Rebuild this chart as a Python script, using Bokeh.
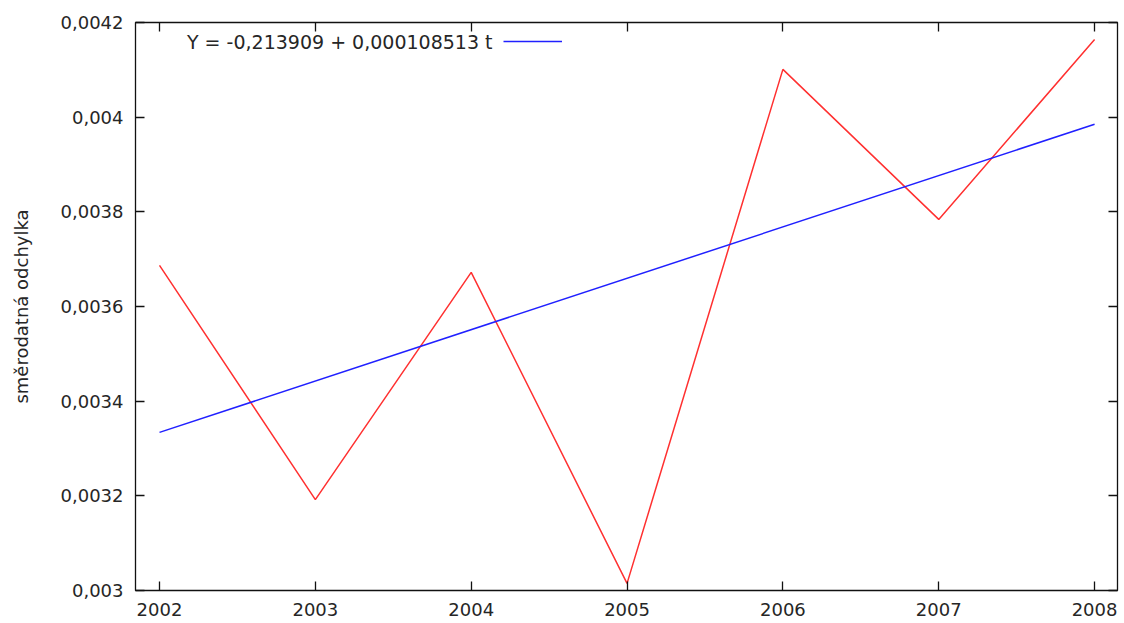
from bokeh.plotting import figure
from bokeh.models import (FixedTicker, LinearAxis, Range1d, CustomJSTickFormatter,
                          Legend, LegendItem, Label)
from bokeh.embed import file_html
from bokeh.resources import INLINE

# ---- data ----
years = [2002, 2003, 2004, 2005, 2006, 2007, 2008]
std_dev = [0.003687, 0.003192, 0.003672, 0.003015, 0.004101, 0.003784, 0.004164]
fit_intercept = -0.213909
fit_slope = 0.000108513
fit_label = "Y = -0,213909 + 0,000108513 t"
y_label = "směrodatná odchylka"
y_ticks = [0.003, 0.0032, 0.0034, 0.0036, 0.0038, 0.004, 0.0042]
x_ticks = years

fit_x = [years[0], years[-1]]
fit_y = [fit_intercept + fit_slope * t for t in fit_x]

FONT = "DejaVu Sans"
FS = "18px"
TXT = "#262626"

p = figure(width=1120, height=622, output_backend="svg", toolbar_location=None,
           x_range=Range1d(2001.846, 2008.147), y_range=Range1d(0.003, 0.0042),
           min_border_left=135, min_border_right=3, min_border_top=22,
           min_border_bottom=32, background_fill_color="white",
           border_fill_color="white")
p.grid.visible = False
p.outline_line_color = "#111111"
p.outline_line_width = 1.3

p.line(years, std_dev, line_color="#ff3030", line_width=1.5)
blue = p.line(fit_x, fit_y, line_color="#2020ff", line_width=1.5)

fmt = CustomJSTickFormatter(code="""
let s = tick.toFixed(4).replace(/0+$/, '');
return s.replace('.', ',');
""")

xa = p.xaxis[0]
xa.ticker = FixedTicker(ticks=x_ticks)
ya = p.yaxis[0]
ya.ticker = FixedTicker(ticks=y_ticks)
ya.formatter = fmt
ya.axis_label = y_label
ya.axis_label_standoff = 26
ya.axis_label_text_font = FONT
ya.axis_label_text_font_size = FS
ya.axis_label_text_font_style = "normal"
ya.axis_label_text_color = TXT
xa.major_label_standoff = 12
ya.major_label_standoff = 12

for ax in (xa, ya):
    ax.major_tick_in = 9
    ax.major_tick_out = 0
    ax.minor_tick_in = 0
    ax.minor_tick_out = 0
    ax.axis_line_color = None
    ax.major_tick_line_color = "#111111"
    ax.major_tick_line_width = 1.3
    ax.major_label_text_font = FONT
    ax.major_label_text_font_size = FS
    ax.major_label_text_color = TXT

# mirrored tick marks (top and right), no labels
empty_fmt = CustomJSTickFormatter(code="return '';")
top = LinearAxis(ticker=FixedTicker(ticks=x_ticks), formatter=empty_fmt)
right = LinearAxis(ticker=FixedTicker(ticks=y_ticks), formatter=empty_fmt)
for ax in (top, right):
    ax.major_tick_in = 9
    ax.major_tick_out = 0
    ax.minor_tick_in = 0
    ax.minor_tick_out = 0
    ax.axis_line_color = None
    ax.major_tick_line_color = "#111111"
    ax.major_tick_line_width = 1.3
    ax.major_label_standoff = 0
    ax.major_label_text_font_size = "1px"
p.add_layout(top, "above")
p.add_layout(right, "right")

# legend: text then sample line (gnuplot style)
p.add_layout(Label(x=357, y=549, x_units="screen", y_units="screen",
                   text=fit_label, text_align="right", text_baseline="middle",
                   text_font=FONT, text_font_size="19px", text_color=TXT))
leg = Legend(items=[LegendItem(label="", renderers=[blue])],
             location=(368, 538), glyph_width=59, glyph_height=22,
             label_width=0, label_standoff=0, padding=0, margin=0, spacing=0,
             border_line_color=None, background_fill_alpha=0)
p.add_layout(leg, "center")

open("out.html", "w").write(file_html(p, INLINE))
